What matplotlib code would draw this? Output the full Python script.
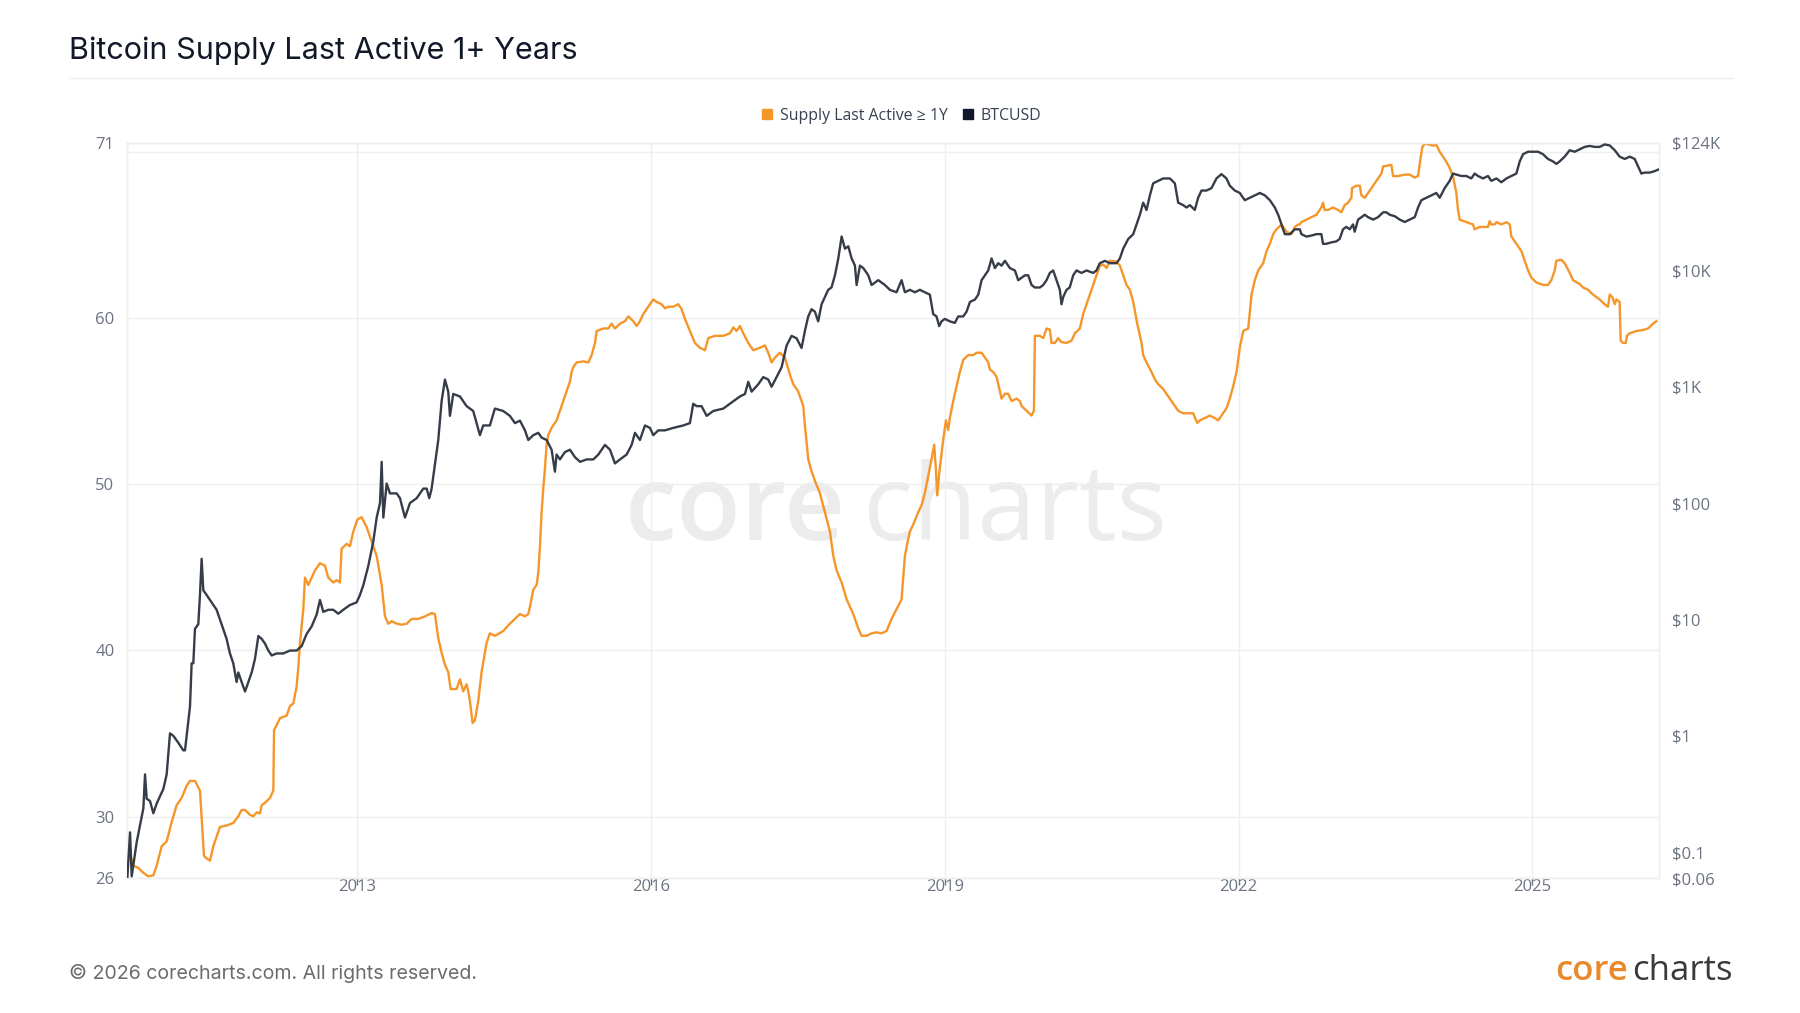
import matplotlib
matplotlib.use('Agg')
import matplotlib.pyplot as plt
from matplotlib.lines import Line2D

# ---------------- data ----------------
supply_years = [
    2010.655, 2010.683, 2010.717, 2010.768, 2010.819, 2010.870, 2010.921, 2010.955, 2011.006, 2011.057,
    2011.108, 2011.159, 2011.210, 2011.261, 2011.295, 2011.346, 2011.397, 2011.414, 2011.438, 2011.465,
    2011.499, 2011.533, 2011.567, 2011.601, 2011.669, 2011.737, 2011.788, 2011.822, 2011.857, 2011.908,
    2011.942, 2011.976, 2012.010, 2012.027, 2012.061, 2012.112, 2012.146, 2012.153, 2012.180, 2012.214,
    2012.282, 2012.316, 2012.350, 2012.384, 2012.401, 2012.418, 2012.452, 2012.469, 2012.503, 2012.537,
    2012.571, 2012.622, 2012.673, 2012.707, 2012.758, 2012.792, 2012.826, 2012.843, 2012.894, 2012.928,
    2012.962, 2013.003, 2013.047, 2013.098, 2013.149, 2013.201, 2013.252, 2013.286, 2013.320, 2013.354,
    2013.405, 2013.456, 2013.507, 2013.558, 2013.626, 2013.694, 2013.762, 2013.796, 2013.830, 2013.864,
    2013.898, 2013.932, 2013.956, 2014.017, 2014.051, 2014.085, 2014.119, 2014.136, 2014.153, 2014.180,
    2014.204, 2014.238, 2014.272, 2014.323, 2014.357, 2014.408, 2014.493, 2014.561, 2014.613, 2014.664,
    2014.715, 2014.749, 2014.766, 2014.800, 2014.834, 2014.851, 2014.868, 2014.885, 2014.902, 2014.919,
    2014.936, 2014.953, 2014.987, 2015.038, 2015.072, 2015.106, 2015.140, 2015.174, 2015.191, 2015.208,
    2015.243, 2015.311, 2015.362, 2015.396, 2015.430, 2015.447, 2015.515, 2015.566, 2015.600, 2015.634,
    2015.685, 2015.736, 2015.770, 2015.821, 2015.855, 2015.889, 2015.923, 2015.957, 2015.991, 2016.025,
    2016.059, 2016.110, 2016.144, 2016.178, 2016.229, 2016.280, 2016.314, 2016.348, 2016.399, 2016.450,
    2016.501, 2016.553, 2016.586, 2016.655, 2016.740, 2016.808, 2016.842, 2016.876, 2016.910, 2016.944,
    2016.995, 2017.046, 2017.114, 2017.165, 2017.199, 2017.233, 2017.267, 2017.318, 2017.369, 2017.420,
    2017.454, 2017.505, 2017.556, 2017.573, 2017.607, 2017.641, 2017.675, 2017.726, 2017.777, 2017.829,
    2017.863, 2017.897, 2017.948, 2017.999, 2018.067, 2018.118, 2018.152, 2018.203, 2018.254, 2018.305,
    2018.356, 2018.407, 2018.458, 2018.509, 2018.560, 2018.594, 2018.628, 2018.645, 2018.679, 2018.730,
    2018.764, 2018.798, 2018.832, 2018.866, 2018.893, 2018.910, 2018.924, 2018.944, 2018.968, 2018.985,
    2019.013, 2019.036, 2019.053, 2019.087, 2019.121, 2019.155, 2019.189, 2019.241, 2019.292, 2019.326,
    2019.377, 2019.411, 2019.445, 2019.462, 2019.496, 2019.530, 2019.564, 2019.581, 2019.615, 2019.649,
    2019.683, 2019.734, 2019.768, 2019.785, 2019.836, 2019.887, 2019.911, 2019.921, 2019.972, 2020.006,
    2020.040, 2020.074, 2020.091, 2020.125, 2020.159, 2020.193, 2020.244, 2020.295, 2020.329, 2020.380,
    2020.414, 2020.448, 2020.482, 2020.516, 2020.550, 2020.584, 2020.619, 2020.653, 2020.687, 2020.755,
    2020.789, 2020.823, 2020.857, 2020.891, 2020.925, 2020.966, 2021.010, 2021.027, 2021.061, 2021.112,
    2021.146, 2021.180, 2021.231, 2021.282, 2021.333, 2021.384, 2021.435, 2021.486, 2021.537, 2021.578,
    2021.605, 2021.656, 2021.707, 2021.758, 2021.792, 2021.826, 2021.877, 2021.911, 2021.945, 2021.980,
    2022.013, 2022.048, 2022.099, 2022.133, 2022.167, 2022.201, 2022.252, 2022.286, 2022.320, 2022.354,
    2022.388, 2022.439, 2022.490, 2022.541, 2022.575, 2022.609, 2022.626, 2022.642, 2022.693, 2022.744,
    2022.795, 2022.829, 2022.846, 2022.863, 2022.880, 2022.914, 2022.965, 2023.016, 2023.050, 2023.084,
    2023.118, 2023.152, 2023.159, 2023.203, 2023.238, 2023.255, 2023.289, 2023.323, 2023.374, 2023.425,
    2023.459, 2023.476, 2023.527, 2023.561, 2023.578, 2023.629, 2023.697, 2023.748, 2023.799, 2023.833,
    2023.850, 2023.877, 2023.901, 2023.952, 2023.986, 2024.020, 2024.054, 2024.105, 2024.149, 2024.190,
    2024.224, 2024.241, 2024.258, 2024.326, 2024.394, 2024.411, 2024.462, 2024.513, 2024.547, 2024.564,
    2024.581, 2024.615, 2024.633, 2024.684, 2024.735, 2024.769, 2024.786, 2024.837, 2024.888, 2024.922,
    2024.956, 2024.990, 2025.041, 2025.109, 2025.160, 2025.194, 2025.228, 2025.245, 2025.296, 2025.330,
    2025.381, 2025.415, 2025.483, 2025.517, 2025.568, 2025.619, 2025.687, 2025.738, 2025.772, 2025.790,
    2025.817, 2025.841, 2025.858, 2025.891, 2025.902, 2025.926, 2025.953, 2025.966, 2025.994, 2026.062,
    2026.130, 2026.181, 2026.232, 2026.266,
]
supply_values = [
    27.63, 27.72, 27.05, 26.90, 26.61, 26.40, 26.46, 27.05, 28.21, 28.50,
    29.67, 30.68, 31.12, 31.85, 32.14, 32.14, 31.56, 29.96, 27.63, 27.48,
    27.34, 28.21, 28.79, 29.37, 29.46, 29.61, 30.01, 30.39, 30.39, 30.10,
    30.01, 30.25, 30.19, 30.68, 30.83, 31.12, 31.56, 35.20, 35.49, 35.92,
    36.07, 36.65, 36.80, 37.82, 38.98, 40.44, 42.47, 44.37, 43.93, 44.37,
    44.80, 45.24, 45.09, 44.37, 44.08, 44.22, 44.08, 46.11, 46.40, 46.26,
    47.13, 47.86, 48.01, 47.42, 46.55, 45.68, 43.93, 42.04, 41.60, 41.75,
    41.60, 41.54, 41.60, 41.89, 41.89, 42.04, 42.24, 42.18, 40.73, 39.85,
    39.13, 38.69, 37.67, 37.67, 38.25, 37.53, 37.96, 37.53, 36.94, 35.63,
    35.78, 36.94, 38.69, 40.44, 41.02, 40.87, 41.16, 41.60, 41.89, 42.18,
    42.04, 42.18, 42.62, 43.64, 43.93, 44.66, 46.26, 48.30, 49.75, 50.92,
    52.37, 52.95, 53.39, 53.83, 54.41, 54.99, 55.57, 56.16, 56.74, 57.03,
    57.32, 57.38, 57.32, 57.76, 58.49, 59.21, 59.36, 59.36, 59.65, 59.36,
    59.65, 59.80, 60.09, 59.80, 59.51, 59.80, 60.23, 60.52, 60.82, 61.11,
    60.96, 60.82, 60.58, 60.67, 60.67, 60.82, 60.52, 59.94, 59.21, 58.49,
    58.20, 58.05, 58.78, 58.92, 58.92, 59.07, 59.42, 59.21, 59.51, 59.07,
    58.49, 58.05, 58.20, 58.34, 57.90, 57.32, 57.61, 57.90, 57.61, 56.59,
    56.01, 55.57, 54.70, 53.54, 51.50, 50.77, 50.19, 49.46, 48.30, 47.13,
    45.68, 44.80, 44.08, 43.06, 42.18, 41.31, 40.87, 40.87, 41.02, 41.08,
    41.02, 41.16, 41.89, 42.47, 43.06, 45.68, 46.70, 47.13, 47.57, 48.30,
    48.73, 49.46, 50.48, 51.50, 52.37, 50.92, 49.32, 50.63, 51.79, 52.66,
    53.83, 53.25, 53.97, 54.99, 55.87, 56.74, 57.47, 57.76, 57.76, 57.90,
    57.90, 57.61, 57.32, 56.89, 56.74, 56.45, 55.57, 55.14, 55.43, 55.43,
    54.99, 55.14, 54.99, 54.70, 54.41, 54.12, 54.41, 58.92, 58.92, 58.78,
    59.36, 59.30, 58.49, 58.49, 58.78, 58.54, 58.49, 58.63, 59.07, 59.36,
    60.23, 60.82, 61.40, 61.98, 62.56, 63.14, 63.20, 63.00, 63.44, 63.38,
    63.14, 62.56, 61.98, 61.69, 60.96, 59.65, 58.49, 57.76, 57.32, 56.74,
    56.30, 56.01, 55.72, 55.28, 54.85, 54.41, 54.26, 54.26, 54.26, 53.68,
    53.83, 53.97, 54.12, 53.97, 53.83, 54.12, 54.56, 55.14, 55.87, 56.74,
    58.20, 59.21, 59.36, 61.40, 62.27, 62.85, 63.29, 64.02, 64.45, 65.04,
    65.33, 65.62, 65.18, 65.04, 65.47, 65.62, 65.62, 65.76, 65.91, 66.06,
    66.20, 66.49, 66.64, 66.93, 66.49, 66.49, 66.64, 66.49, 66.35, 66.78,
    66.93, 67.22, 67.80, 67.95, 67.95, 67.37, 67.22, 67.51, 67.95, 68.38,
    68.68, 69.11, 69.17, 69.20, 68.53, 68.53, 68.62, 68.62, 68.44, 68.53,
    69.26, 70.28, 70.48, 70.42, 70.36, 70.42, 69.99, 69.55, 69.11, 68.53,
    67.51, 66.49, 65.91, 65.76, 65.62, 65.33, 65.47, 65.47, 65.47, 65.82,
    65.62, 65.62, 65.76, 65.62, 65.76, 65.62, 64.89, 64.45, 64.02, 63.44,
    62.85, 62.42, 62.13, 61.98, 61.98, 62.27, 62.85, 63.44, 63.49, 63.29,
    62.71, 62.27, 62.04, 61.83, 61.69, 61.40, 61.11, 60.82, 60.67, 61.40,
    61.25, 60.82, 61.11, 60.96, 58.63, 58.49, 58.49, 58.92, 59.07, 59.21,
    59.27, 59.36, 59.65, 59.80,
]

btc_years = [
    2010.655, 2010.683, 2010.700, 2010.751, 2010.819, 2010.836, 2010.853, 2010.887, 2010.921, 2010.955,
    2011.023, 2011.057, 2011.091, 2011.125, 2011.176, 2011.227, 2011.244, 2011.278, 2011.295, 2011.312,
    2011.329, 2011.346, 2011.380, 2011.397, 2011.414, 2011.431, 2011.465, 2011.516, 2011.567, 2011.601,
    2011.635, 2011.669, 2011.703, 2011.737, 2011.771, 2011.788, 2011.822, 2011.857, 2011.891, 2011.925,
    2011.959, 2011.993, 2012.027, 2012.061, 2012.095, 2012.129, 2012.180, 2012.248, 2012.316, 2012.384,
    2012.435, 2012.486, 2012.537, 2012.588, 2012.622, 2012.656, 2012.707, 2012.758, 2012.809, 2012.860,
    2012.928, 2012.996, 2013.030, 2013.064, 2013.115, 2013.166, 2013.201, 2013.235, 2013.252, 2013.269,
    2013.303, 2013.337, 2013.405, 2013.439, 2013.490, 2013.541, 2013.609, 2013.677, 2013.711, 2013.738,
    2013.762, 2013.796, 2013.830, 2013.864, 2013.898, 2013.932, 2013.949, 2013.983, 2014.051, 2014.119,
    2014.187, 2014.255, 2014.289, 2014.357, 2014.408, 2014.493, 2014.561, 2014.613, 2014.664, 2014.715,
    2014.749, 2014.800, 2014.851, 2014.885, 2014.936, 2014.987, 2015.021, 2015.038, 2015.072, 2015.123,
    2015.174, 2015.225, 2015.277, 2015.345, 2015.413, 2015.464, 2015.532, 2015.583, 2015.634, 2015.685,
    2015.753, 2015.804, 2015.838, 2015.889, 2015.940, 2015.991, 2016.025, 2016.076, 2016.144, 2016.229,
    2016.331, 2016.399, 2016.433, 2016.467, 2016.518, 2016.570, 2016.638, 2016.740, 2016.808, 2016.910,
    2016.961, 2016.995, 2017.029, 2017.097, 2017.148, 2017.199, 2017.233, 2017.284, 2017.335, 2017.386,
    2017.437, 2017.488, 2017.539, 2017.573, 2017.607, 2017.641, 2017.675, 2017.709, 2017.743, 2017.777,
    2017.811, 2017.845, 2017.880, 2017.914, 2017.948, 2017.982, 2018.016, 2018.050, 2018.084, 2018.101,
    2018.135, 2018.169, 2018.220, 2018.254, 2018.322, 2018.390, 2018.441, 2018.509, 2018.560, 2018.594,
    2018.645, 2018.696, 2018.747, 2018.798, 2018.849, 2018.883, 2018.917, 2018.944, 2018.968, 2019.002,
    2019.053, 2019.104, 2019.138, 2019.189, 2019.223, 2019.258, 2019.309, 2019.343, 2019.377, 2019.411,
    2019.445, 2019.479, 2019.513, 2019.547, 2019.581, 2019.615, 2019.666, 2019.717, 2019.751, 2019.785,
    2019.819, 2019.853, 2019.887, 2019.921, 2019.972, 2020.006, 2020.040, 2020.074, 2020.108, 2020.142,
    2020.176, 2020.193, 2020.210, 2020.244, 2020.277, 2020.312, 2020.346, 2020.397, 2020.448, 2020.516,
    2020.550, 2020.584, 2020.636, 2020.687, 2020.755, 2020.789, 2020.823, 2020.874, 2020.925, 2020.959,
    2020.993, 2021.027, 2021.061, 2021.095, 2021.129, 2021.180, 2021.231, 2021.299, 2021.350, 2021.384,
    2021.435, 2021.469, 2021.503, 2021.554, 2021.588, 2021.622, 2021.673, 2021.724, 2021.775, 2021.826,
    2021.877, 2021.911, 2021.962, 2022.013, 2022.064, 2022.115, 2022.166, 2022.218, 2022.269, 2022.320,
    2022.371, 2022.405, 2022.439, 2022.473, 2022.524, 2022.575, 2022.626, 2022.642, 2022.693, 2022.744,
    2022.795, 2022.846, 2022.863, 2022.897, 2022.948, 2022.999, 2023.033, 2023.067, 2023.101, 2023.135,
    2023.169, 2023.186, 2023.221, 2023.255, 2023.289, 2023.323, 2023.374, 2023.425, 2023.476, 2023.510,
    2023.544, 2023.595, 2023.646, 2023.697, 2023.748, 2023.799, 2023.833, 2023.867, 2023.918, 2023.969,
    2024.020, 2024.054, 2024.105, 2024.156, 2024.190, 2024.224, 2024.275, 2024.326, 2024.377, 2024.411,
    2024.445, 2024.496, 2024.547, 2024.581, 2024.633, 2024.684, 2024.735, 2024.786, 2024.837, 2024.871,
    2024.905, 2024.956, 2025.007, 2025.058, 2025.109, 2025.160, 2025.211, 2025.245, 2025.279, 2025.330,
    2025.381, 2025.432, 2025.483, 2025.534, 2025.585, 2025.636, 2025.687, 2025.738, 2025.790, 2025.841,
    2025.891, 2025.943, 2025.994, 2026.045, 2026.079, 2026.113, 2026.147, 2026.198, 2026.249, 2026.283,
]
btc_prices = [
    0.059, 0.148, 0.062, 0.122, 0.238, 0.466, 0.288, 0.275, 0.216, 0.262,
    0.349, 0.466, 1.05, 1.0, 0.87, 0.75, 0.75, 1.34, 1.78, 4.2,
    4.2, 8.3, 9.1, 16.2, 33.2, 17.8, 16.2, 14.0, 12.1, 10.0,
    8.3, 6.8, 5.1, 4.2, 2.9, 3.5, 2.9, 2.4, 2.9, 3.5,
    4.6, 7.2, 6.8, 6.2, 5.4, 4.9, 5.1, 5.1, 5.4, 5.4,
    5.9, 7.5, 8.7, 11.0, 14.7, 11.6, 12.1, 12.1, 11.2, 12.1,
    13.3, 14.0, 16.2, 19.6, 28.7, 46.4, 75, 100, 226, 75,
    147, 121, 121, 110, 75, 100, 110, 133, 133, 110,
    133, 215, 348, 748, 1150, 906, 561, 865, 824, 680,
    618, 383, 464, 464, 648, 618, 561, 486, 510, 421,
    348, 383, 401, 365, 348, 287, 186, 261, 237, 274,
    287, 248, 226, 237, 237, 261, 316, 287, 219, 237,
    261, 316, 401, 348, 464, 442, 383, 421, 421, 442,
    464, 486, 713, 680, 680, 561, 618, 648, 713, 824,
    865, 1099, 906, 1048, 1208, 1151, 998, 1208, 1466, 2254,
    2731, 2603, 2148, 3006, 4009, 4627, 4407, 3638, 5097, 5877,
    6787, 7125, 9057, 12650, 19490, 15320, 16070, 12650, 10960, 7470,
    10960, 10450, 9057, 7470, 8220, 7470, 6787, 6475, 8220, 6475,
    6787, 6470, 6790, 6470, 6170, 4200, 4010, 3310, 3640, 3820,
    3640, 3530, 4010, 4010, 4400, 5340, 5600, 6170, 8220, 9050,
    9960, 12650, 10440, 11500, 10960, 12050, 10440, 9960, 8220, 8630,
    9050, 9050, 7470, 7110, 7110, 7470, 8220, 9490, 9960, 8220,
    6790, 5100, 5880, 6790, 7110, 9050, 9960, 9490, 9960, 9490,
    9960, 11500, 12050, 11500, 11500, 12650, 15350, 18560, 20400, 24770,
    29990, 38100, 32990, 43970, 55850, 58620, 61500, 61500, 55850, 38100,
    36270, 34590, 36270, 32990, 41960, 48420, 48420, 50800, 61500, 67000,
    61500, 53330, 48420, 46150, 40000, 41960, 43970, 46150, 43970, 40000,
    34590, 29990, 24770, 20400, 20400, 22480, 22480, 20430, 19480, 19860,
    20430, 20430, 16870, 16870, 17370, 17710, 18580, 22490, 23600, 22490,
    24760, 21430, 27250, 28590, 29990, 28590, 27250, 28590, 31470, 31470,
    29990, 29130, 27250, 25990, 27250, 28590, 34600, 39990, 41960, 43980,
    46150, 41960, 50780, 58650, 67760, 66400, 64560, 64560, 61510, 67760,
    64560, 61510, 64560, 58650, 61510, 57000, 61510, 64560, 67760, 86100,
    99340, 104300, 104300, 104300, 99340, 90400, 86100, 82050, 86100, 94700,
    107400, 104300, 109400, 114800, 117000, 114800, 114800, 120500, 118100, 107400,
    94700, 90400, 94700, 90400, 78200, 67760, 69060, 69060, 71100, 73200,
]

series_names = ['Supply Last Active \u2265 1Y', 'BTCUSD']
x_ticks = [2013, 2016, 2019, 2022, 2025]
x_tick_labels = ['2013', '2016', '2019', '2022', '2025']
left_ticks = [26.3, 30, 40, 50, 60, 70, 70.52]
left_tick_labels = ['26', '30', '40', '50', '60', '', '71']
right_ticks = [0.06, 0.1, 1, 10, 100, 1000, 10000, 124000]
right_tick_labels = [r'\$0.06', r'\$0.1', r'\$1', r'\$10', r'\$100', r'\$1K', r'\$10K', r'\$124K']

# ---------------- styling ----------------
ORANGE = '#F5962A'
DARK = '#363c48'
GRID = '#efefef'
LABEL = '#6b7280'
FONT = ['Open Sans', 'DejaVu Sans']
TFONT = ['Inter', 'DejaVu Sans']

W, H = 1800, 1013
fig = plt.figure(figsize=(W / 100, H / 100), dpi=100)
fig.patch.set_facecolor('white')

L, R, T, B = 127, 1659, 143, 878
ax = fig.add_axes([L / W, 1 - B / H, (R - L) / W, (B - T) / H])
ax2 = ax.twinx()

ax.set_xlim(2010.652, 2026.293)
ax.set_ylim(26.3, 70.52)
ax2.set_yscale('log')
ax2.set_ylim(0.06, 124000)

ax.plot(supply_years, supply_values, color=ORANGE, lw=1.7, zorder=3, solid_joinstyle='round')
ax2.plot(btc_years, btc_prices, color=DARK, lw=1.7, zorder=3, solid_joinstyle='round')

# grid & spines
ax.set_yticks(left_ticks)
ax.set_yticklabels(left_tick_labels, fontfamily=FONT, fontsize=12, color=LABEL)
ax.set_xticks(x_ticks)
ax.set_xticklabels(x_tick_labels, fontfamily=FONT, fontsize=12, color=LABEL)
ax.grid(True, color=GRID, lw=1.0, zorder=0)
ax.set_axisbelow(True)
ax.tick_params(axis='y', length=0, pad=9)
ax.tick_params(axis='x', length=5, width=1, color=LABEL, pad=-4)

ax2.set_yticks(right_ticks)
ax2.set_yticklabels(right_tick_labels, fontfamily=FONT, fontsize=12, color=LABEL)
ax2.yaxis.set_minor_locator(matplotlib.ticker.NullLocator())
ax2.tick_params(axis='y', length=0, pad=9)
ax2.grid(False)

for a in (ax, ax2):
    for s in a.spines.values():
        s.set_color(GRID)
        s.set_linewidth(1.0)

# watermark
ax.text(846 / W, (H - 540) / H, 'core', transform=fig.transFigure, fontsize=76,
        fontfamily=FONT, fontweight='semibold', color='#ececec', ha='right', va='baseline', zorder=0.5)
ax.text(862 / W, (H - 540) / H, 'charts', transform=fig.transFigure, fontsize=76,
        fontfamily=FONT, color='#ececec', ha='left', va='baseline', zorder=0.5)

# legend
handles = [Line2D([0], [0], marker='s', ls='', ms=7.5, color=ORANGE),
           Line2D([0], [0], marker='s', ls='', ms=7.5, color='#0f172a')]
leg = ax.legend(handles, series_names, loc='center', bbox_to_anchor=(901 / W, 1 - 116 / H),
                bbox_transform=fig.transFigure, ncol=2, frameon=False, handlelength=0.8,
                handletextpad=0.4, columnspacing=0.9, prop={'family': FONT, 'size': 11.4})
for t in leg.get_texts():
    t.set_color('#374151')

# title and separator
fig.text(69 / W, 1 - 51 / H, 'Bitcoin Supply Last Active 1+ Years', fontsize=22,
         fontfamily=TFONT, color='#111827', ha='left', va='center')
fig.add_artist(Line2D([69 / W, 1733 / W], [1 - 78 / H, 1 - 78 / H], color='#ededed', lw=1.0))

# footer
fig.text(69 / W, 1 - 973 / H, '\u00a9 2026 corecharts.com. All rights reserved.', fontsize=14.1,
         fontfamily=TFONT, color='#6b6b6b', ha='left', va='center')
fig.text(1628 / W, 1 - 980 / H, 'core', fontsize=25, fontfamily=FONT, fontweight='semibold',
         color='#e8892b', ha='right', va='baseline')
fig.text(1632 / W, 1 - 980 / H, 'charts', fontsize=25, fontfamily=FONT,
         color='#3a3a3a', ha='left', va='baseline')

fig.savefig('out.png', dpi=100, facecolor='white')
